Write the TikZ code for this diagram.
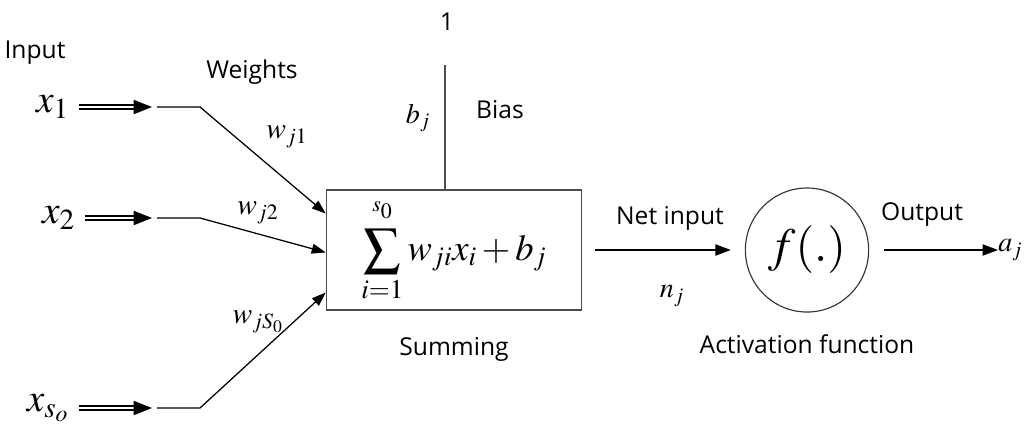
\documentclass[tikz,border=0pt]{standalone}
\usepackage{mathptmx}
\usepackage[no-math]{fontspec}
\setmainfont{Open Sans}
\usepackage{tikz}
\usetikzlibrary{arrows.meta, positioning, calc, shapes.geometric}

\begin{document}
\begin{tikzpicture}[x=0.025cm, y=-0.025cm,
    lbl/.style={font=\fontsize{17.5}{21}\selectfont},
    inmath/.style={font=\fontsize{28}{32}\selectfont, inner sep=2pt},
    wmath/.style={font=\fontsize{21}{24}\selectfont, inner sep=0pt},
    smallmath/.style={font=\fontsize{20}{24}\selectfont, inner sep=0pt},
    inarrow/.style={double, double distance=1.4pt, line width=1.1pt, -{Triangle[length=13pt,width=10pt]}, shorten <=5pt},
    wline/.style={line width=0.9pt, -{Triangle[length=10pt,width=7pt]}},
    arr/.style={line width=1pt, -{Triangle[length=11pt,width=8pt]}},
    sumbox/.style={draw=black!70, line width=1pt, minimum width=6.375cm, minimum height=3cm, font=\fontsize{26}{30}\selectfont},
    actnode/.style={ellipse, draw=black!80, line width=0.8pt, minimum width=2.75cm, minimum height=3.1cm, font=\fontsize{34}{38}\selectfont}
]
    \useasboundingbox (0,0) rectangle (1036,430);

    % inputs and weights
    \node[lbl] (input) at (35,53) {Input};
    \node[lbl] (weights) at (252,72) {Weights};
    \node[inmath, anchor=east] (x1) at (72,107) {$x_1$};
    \node[inmath, anchor=east] (x2) at (78,218) {$x_2$};
    \node[inmath, anchor=east] (xs) at (72,408) {$x_{s_o}$};

    \coordinate (h1) at (152,107);
    \coordinate (h2) at (152,218);
    \coordinate (h3) at (152,408);
    \coordinate (k1) at (157,107);
    \coordinate (k2) at (157,218);
    \coordinate (k3) at (157,408);
    \coordinate (b1) at (200,107);
    \coordinate (b2) at (200,218);
    \coordinate (b3) at (200,408);

    % summing junction
    \node[sumbox] (sum) at (454,250) {$\displaystyle\sum_{i=1}^{\raisebox{7pt}{$\scriptscriptstyle s_0$}} w_{ji}x_i + b_j$};
    \coordinate (in1) at ($(sum.north west)!0.2!(sum.south west)$);
    \coordinate (in2) at ($(sum.north west)!0.52!(sum.south west)$);
    \coordinate (in3) at ($(sum.north west)!0.85!(sum.south west)$);

    \draw[inarrow] (x1) -- (h1);
    \draw[inarrow] (x2) -- (h2);
    \draw[inarrow] (xs) -- (h3);
    \draw[wline] (k1) -- (b1) -- (in1);
    \draw[wline] (k2) -- (b2) -- (in2);
    \draw[wline] (k3) -- (b3) -- (in3);

    \node[wmath] (w1) at (287,137) {$w_{j1}$};
    \node[wmath] (w2) at (258,213) {$w_{j2}$};
    \node[wmath] (w3) at (258,322) {$w_{jS_0}$};

    % bias
    \node[lbl] (one) at (447,22) {1};
    \coordinate (btop) at (445,65);
    \draw[line width=1pt, black!70] (btop) -- (btop |- sum.north);
    \node[smallmath] (bj) at (418,118) {$b_j$};
    \node[lbl] (bias) at (500,110) {Bias};
    \node[lbl, below=0.55cm of sum] (summing) {Summing};

    % activation and output
    \node[actnode] (act) at (807,250) {$f(.)$};
    \node[lbl, below=0.42cm of act] (actfn) {Activation function};
    \draw[arr, shorten <=0.32cm, shorten >=0.35cm] (sum) -- (act);
    \node[lbl] (netin) at (670,218) {Net input};
    \node[smallmath] (nj) at (672,296) {$n_j$};

    \node[smallmath, anchor=west] (aj) at (998,250) {$a_j$};
    \draw[arr, shorten <=0.37cm] (act) -- (aj);
    \node[lbl] (output) at (922,215) {Output};
\end{tikzpicture}
\end{document}
